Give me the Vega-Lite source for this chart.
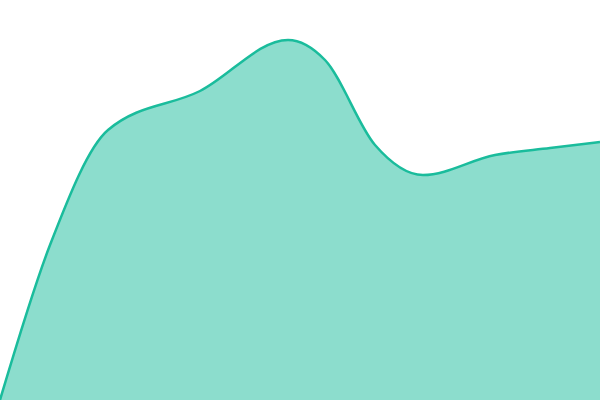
{
  "$schema": "https://vega.github.io/schema/vega-lite/v6.json",
  "autosize": {"type": "fit", "contains": "padding"},
  "width": 600,
  "height": 400,
  "padding": 0,
  "background": "white",
  "config": {"view": {"stroke": null}},
  "data": {"values": [
    {"x": 0, "v": 0},
    {"x": 50, "v": 155},
    {"x": 108, "v": 270},
    {"x": 200, "v": 309},
    {"x": 288, "v": 360},
    {"x": 325, "v": 340},
    {"x": 375, "v": 255},
    {"x": 423, "v": 225},
    {"x": 495, "v": 245},
    {"x": 550, "v": 252},
    {"x": 600, "v": 258}
  ]},
  "mark": {
    "type": "area",
    "interpolate": "monotone",
    "clip": true,
    "color": "#1abc9c",
    "fillOpacity": 0.5,
    "line": {"color": "#1abc9c", "strokeWidth": 2.5, "clip": true}
  },
  "encoding": {
    "x": {"field": "x", "type": "quantitative", "scale": {"domain": [0, 600], "nice": false, "zero": false}, "axis": null},
    "y": {"field": "v", "type": "quantitative", "scale": {"domain": [0, 400], "nice": false}, "axis": null}
  }
}
